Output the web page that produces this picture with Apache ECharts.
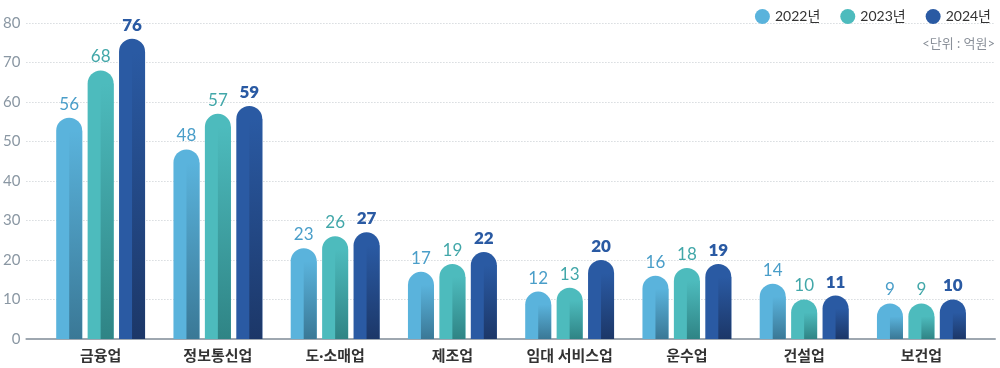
<!DOCTYPE html>
<html><head><meta charset="utf-8">
<script src="https://cdn.jsdelivr.net/npm/echarts@6/dist/echarts.min.js"></script>
<style>html,body{margin:0;padding:0;background:#fff}#c{width:1000px;height:368px}</style>
</head><body><div id="c"></div>
<script>
const categories = ['금융업','정보통신업','도·소매업','제조업','임대 서비스업','운수업','건설업','보건업'];
const years = ['2022년','2023년','2024년'];
const v2022 = [56,48,23,17,12,16,14,9];
const v2023 = [68,57,26,19,13,18,10,9];
const v2024 = [76,59,27,22,20,19,11,10];
const yTicks = [0,10,20,30,40,50,60,70,80];

const values = [v2022, v2023, v2024];
const colors = ['#5ab3dc', '#4dbbbd', '#2a5aa3'];
const darks = ['#3a7896', '#2f8485', '#1c3768'];
const labelColors = ['#4a9ec9', '#42a7a9', '#2a5aa3'];
const FONT = 'Lato, "Noto Sans CJK KR", sans-serif';

function makeRender(idx){
  return function(params, api){
    const cat = api.value(0), v = api.value(1);
    const top = api.coord([cat, v]);
    const base = api.coord([cat, 0]);
    const band = api.size([1,0])[0];
    const w = 26, pitch = band * 0.268;
    const cx = top[0] + (idx-1)*pitch;
    const x = cx - w/2;
    const h = base[1] - top[1];
    const r = w/2;
    return {type:'group', children:[
      {type:'rect', shape:{x:x, y:top[1], width:w, height:h, r:[r,r,0,0]}, style:{fill:colors[idx]}},
      {type:'rect', shape:{x:cx, y:top[1]+r, width:w/2, height:Math.max(h-r,0)},
        style:{fill:new echarts.graphic.LinearGradient(0,0,0,1,[{offset:0,color:colors[idx]},{offset:1,color:darks[idx]}])}},
      {type:'text', style:{text:String(v), x:cx, y:top[1]-5, align:'center', verticalAlign:'bottom',
        fill:labelColors[idx], font:(idx===2?'800 ':'400 ')+'17px '+FONT}}
    ]};
  };
}

const chart = echarts.init(document.getElementById('c'), null, {renderer:'canvas'});
chart.setOption({
  animation:false,
  backgroundColor:'#fff',
  legend:{data:years, right:4, top:4, icon:'circle', itemWidth:15, itemHeight:15, itemGap:20,
    textStyle:{fontSize:14, color:'#333', fontFamily:FONT}},
  graphic:[{type:'text', right:5, top:37, style:{text:'<단위 : 억원>', fill:'#8a9099', font:'13px '+FONT}}],
  grid:[
    {left:25, right:5, top:23, bottom:29},
    {left:42, right:20, top:23, bottom:29}
  ],
  xAxis:[
    {gridIndex:0, type:'value', min:0, max:1, show:true, axisLabel:{show:false}, axisTick:{show:false}, splitLine:{show:false},
     axisLine:{show:true, lineStyle:{color:'#9ea7b0', width:2}}},
    {gridIndex:1, type:'category', data:categories, axisLine:{show:false}, axisTick:{show:false},
     axisLabel:{margin:10, fontSize:15, fontWeight:'bold', color:'#333', fontFamily:FONT}}
  ],
  yAxis:[
    {gridIndex:0, type:'value', min:yTicks[0], max:yTicks[yTicks.length-1], interval:10,
     axisLine:{show:false}, axisTick:{show:false},
     axisLabel:{fontSize:15, color:'#8a97a3', margin:6, fontFamily:FONT},
     splitLine:{lineStyle:{color:'#c4cacf', type:[1,2]}}},
    {gridIndex:1, type:'value', min:0, max:80, show:false, splitLine:{show:false}}
  ],
  series: years.map((y,i)=>({
    name:y, type:'custom', xAxisIndex:1, yAxisIndex:1,
    itemStyle:{color:colors[i]},
    renderItem:makeRender(i),
    encode:{x:0, y:1},
    data: values[i].map((v,j)=>[j,v])
  }))
});
</script></body></html>
